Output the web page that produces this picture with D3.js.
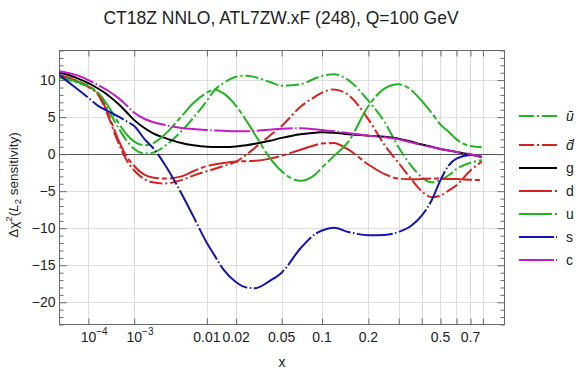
<!DOCTYPE html>
<html><head><meta charset="utf-8">
<script src="https://cdn.jsdelivr.net/npm/d3@7/dist/d3.min.js"></script>
<style>body{margin:0;background:#fff} svg{display:block;font-family:"Liberation Sans",Arial,sans-serif}</style>
</head><body><svg id="chart" width="581" height="376"></svg>
<script>
// ---------- data ----------
const titleText = "CT18Z NNLO, ATL7ZW.xF (248), Q=100 GeV";
const xGrid = [1e-5,2e-5,5e-5,1e-4,2e-4,3e-4,5e-4,7e-4,1e-3,1.5e-3,2e-3,3e-3,5e-3,7e-3,0.01,0.012,0.015,0.02,0.025,0.03,0.04,0.05,0.07,0.09,0.1,0.12,0.15,0.2,0.25,0.3,0.35,0.4,0.45,0.5,0.55,0.6,0.7,0.79];
const uBarVals = [10.3,10.1,9.6,9.1,7.8,6.1,3.6,2.0,0.7,0.1,0.2,1.1,3.1,4.9,7.2,8.6,9.6,10.45,10.6,10.4,9.75,9.25,9.45,10.25,10.55,10.8,10.0,7.2,4.3,0.9,-1.5,-3.1,-3.8,-3.5,-2.85,-2.0,-1.15,-0.8];
const dBarVals = [10.6,10.4,9.8,9.1,7.6,5.3,1.6,-0.6,-2.2,-3.4,-3.8,-3.95,-3.5,-2.9,-2.3,-2.0,-1.6,-1.0,-0.05,0.9,2.5,3.8,6.4,7.8,8.3,8.75,8.0,4.7,1.2,-1.2,-3.3,-5.0,-5.8,-5.6,-4.9,-4.2,-2.2,-1.0];
const gVals = [10.95,10.75,10.2,9.6,8.7,8.0,6.8,5.8,4.6,3.5,2.85,2.2,1.5,1.2,1.0,0.98,0.97,1.05,1.2,1.4,1.8,2.2,2.7,2.9,2.95,2.9,2.7,2.5,2.35,2.1,1.7,1.3,1.0,0.7,0.5,0.3,-0.05,-0.4];
const dVals = [10.6,10.4,9.8,9.2,7.8,5.6,2.0,-0.1,-1.6,-2.8,-3.15,-3.3,-3.0,-2.3,-1.6,-1.4,-1.2,-1.0,-0.95,-0.9,-0.6,-0.2,0.6,1.25,1.45,1.5,0.6,-1.4,-2.7,-3.3,-3.4,-3.35,-3.3,-3.3,-3.35,-3.35,-3.45,-3.5];
const uVals = [10.4,10.2,9.7,9.2,8.0,6.6,4.3,2.8,1.7,1.2,1.45,2.65,5.1,6.9,8.3,8.75,8.2,6.5,4.5,2.6,-0.5,-2.3,-3.6,-2.7,-1.8,-0.3,1.7,6.5,8.9,9.45,8.7,7.2,5.6,4.0,3.0,2.0,1.1,0.95];
const sVals = [10.7,9.9,8.7,7.6,6.35,5.85,5.1,4.5,3.8,2.0,0.9,-1.4,-5.3,-8.4,-12.0,-13.6,-15.6,-17.3,-18.0,-18.1,-17.1,-16.0,-12.7,-10.75,-10.3,-9.95,-10.5,-10.95,-10.9,-10.5,-9.7,-8.3,-6.25,-3.5,-1.5,-0.6,-0.1,-0.3];
const cVals = [11.2,11.0,10.6,10.0,9.2,8.6,7.6,6.7,5.6,4.75,4.35,3.95,3.55,3.4,3.25,3.2,3.15,3.1,3.1,3.15,3.3,3.45,3.5,3.35,3.25,3.1,2.85,2.5,2.3,2.0,1.6,1.25,0.95,0.7,0.5,0.3,0.0,-0.35];
const seriesNames = ["u\u0304","d\u0304","g","d","u","s","c"];
const xTickValues = [1e-4,1e-3,0.01,0.02,0.05,0.1,0.2,0.3,0.4,0.5,0.6,0.7,0.8];
const xTickLabels = ["10|−4","10|−3","0.01","0.02","0.05","0.1","0.2","","","0.5","","0.7",""];
const yMajorTicks = [-20,-15,-10,-5,0,5,10];

// ---------- styles ----------
const GREEN="#22b422", RED="#d42222", BLUE="#1414b0", MAGENTA="#c21dc2", BLACK="#000";
const DASH_DOT="13,3,2,3", LONG_DASH="30,3,5,3", LONG_DOT="36,2.5,1.5,2.5";
const series = [
  {name:seriesNames[0], vals:uBarVals, color:GREEN, dash:DASH_DOT, italic:true},
  {name:seriesNames[1], vals:dBarVals, color:RED, dash:DASH_DOT, italic:true},
  {name:seriesNames[2], vals:gVals, color:BLACK, dash:null},
  {name:seriesNames[3], vals:dVals, color:RED, dash:LONG_DASH},
  {name:seriesNames[4], vals:uVals, color:GREEN, dash:LONG_DASH},
  {name:seriesNames[5], vals:sVals, color:BLUE, dash:LONG_DOT},
  {name:seriesNames[6], vals:cVals, color:MAGENTA, dash:LONG_DOT}
];

const svg = d3.select("#chart");
const L=59.5, R=504.5, T=50.5, B=324.5;
const x = d3.scalePow().exponent(0.2).domain([1e-5,1]).range([L,R]);
const y = d3.scaleLinear().domain([-23,14]).range([B,T]);
const FRAME="#6a6a6a", GRID="#dedede", TXT="#222";
const TICKFS = 14;

// title
svg.append("text").attr("x",281).attr("y",24).attr("text-anchor","middle")
  .attr("font-size",17.5).attr("fill",TXT).text(titleText);

// grid
const g = svg.append("g");
g.selectAll("line.vg").data(xTickValues).join("line")
  .attr("x1",d=>Math.round(x(d))+0.5).attr("x2",d=>Math.round(x(d))+0.5)
  .attr("y1",T).attr("y2",B).attr("stroke",GRID).attr("stroke-width",1);
g.selectAll("line.hg").data(yMajorTicks.filter(v=>v!==0)).join("line")
  .attr("x1",L).attr("x2",R).attr("y1",d=>Math.round(y(d))+0.5).attr("y2",d=>Math.round(y(d))+0.5)
  .attr("stroke",GRID).attr("stroke-width",1);
// zero line
svg.append("line").attr("x1",L).attr("x2",R).attr("y1",Math.round(y(0))+0.5).attr("y2",Math.round(y(0))+0.5)
  .attr("stroke","#555").attr("stroke-width",1);

// axes
const yMinor = d3.range(-23,15,1).filter(v=>!yMajorTicks.includes(v));
function styleAxis(sel){
  sel.select(".domain").remove();
  sel.selectAll(".tick line").attr("stroke",FRAME);
  sel.selectAll(".tick text").attr("fill",TXT).attr("font-size",TICKFS).attr("font-family",'"Liberation Sans",Arial,sans-serif');
}
const axL = svg.append("g").attr("transform",`translate(${L},0)`)
  .call(d3.axisLeft(y).tickValues(yMajorTicks).tickSize(-7).tickPadding(4)
    .tickFormat(v=>v<0?"\u2212"+Math.abs(v):String(v)));
styleAxis(axL);
const axLm = svg.append("g").attr("transform",`translate(${L},0)`)
  .call(d3.axisLeft(y).tickValues(yMinor).tickSize(-4).tickFormat(""));
styleAxis(axLm);
const axR = svg.append("g").attr("transform",`translate(${R},0)`)
  .call(d3.axisRight(y).tickValues(yMajorTicks).tickSize(-7).tickFormat(""));
styleAxis(axR);
const axRm = svg.append("g").attr("transform",`translate(${R},0)`)
  .call(d3.axisRight(y).tickValues(yMinor).tickSize(-4).tickFormat(""));
styleAxis(axRm);
const axB = svg.append("g").attr("transform",`translate(0,${B})`)
  .call(d3.axisBottom(x).tickValues(xTickValues).tickSize(-6).tickFormat(""));
styleAxis(axB);
const axT = svg.append("g").attr("transform",`translate(0,${T})`)
  .call(d3.axisTop(x).tickValues(xTickValues).tickSize(-6).tickFormat(""));
styleAxis(axT);
// bottom tick labels (with superscripts)
xTickValues.forEach((v,i)=>{
  const lab = xTickLabels[i]; if(!lab) return;
  const t = svg.append("text").attr("y",342).attr("font-size",TICKFS).attr("fill",TXT);
  if(lab.includes("|")){
    const [b,e]=lab.split("|");
    t.attr("x",x(v)-8).attr("text-anchor","start").attr("x",x(v)-TICKFS*0.556);
    t.append("tspan").text(b);
    t.append("tspan").attr("font-size",10).attr("dy",-7).text(e);
  } else t.attr("x",x(v)).attr("text-anchor","middle").text(lab);
});

// frame
svg.append("rect").attr("x",L).attr("y",T).attr("width",R-L).attr("height",B-T)
  .attr("fill","none").attr("stroke",FRAME).attr("stroke-width",1);

// axis labels
svg.append("text").attr("x",282).attr("y",367).attr("text-anchor","middle")
  .attr("font-size",14).attr("fill",TXT).text("x");
const yl = svg.append("text").attr("transform","translate(18,185) rotate(-90)")
  .attr("text-anchor","middle").attr("font-size",13.5).attr("fill",TXT);
yl.append("tspan").text("\u0394\u03c7");
yl.append("tspan").attr("font-size",9.5).attr("dy",-6).text("2");
yl.append("tspan").attr("dy",6).text("(");
yl.append("tspan").attr("font-style","italic").text("L");
yl.append("tspan").attr("font-size",9.5).attr("dy",3).text("2");
yl.append("tspan").attr("dy",-3).text(" sensitivity)");

// curves
const line = d3.line().x(d=>x(d[0])).y(d=>y(d[1])).curve(d3.curveMonotoneX);
const plot = svg.append("g");
series.forEach(s=>{
  plot.append("path").datum(xGrid.map((xv,i)=>[xv,s.vals[i]]))
    .attr("d",line).attr("fill","none").attr("stroke",s.color).attr("stroke-width",2)
    .attr("stroke-dasharray",s.dash).attr("stroke-linejoin","round");
});

// legend
const legY0 = 116, legGapFirst = 29, legGap = 23;
series.forEach((s,i)=>{
  const yy = i===0 ? legY0 : legY0 + legGapFirst + (i-1)*legGap;
  svg.append("line").attr("x1",519).attr("x2",557).attr("y1",yy).attr("y2",yy)
    .attr("stroke",s.color).attr("stroke-width",1.8).attr("stroke-dasharray",
      s.dash===DASH_DOT?"15,3,2,3":s.dash===LONG_DASH?"33,3,4,3":s.dash===LONG_DOT?"35,2,2,2":null);
  svg.append("text").attr("x",566).attr("y",yy).attr("dy","0.35em").attr("font-size",14)
    .attr("fill",TXT).attr("font-style",s.italic?"italic":"normal").text(s.name);
});
</script></body></html>
